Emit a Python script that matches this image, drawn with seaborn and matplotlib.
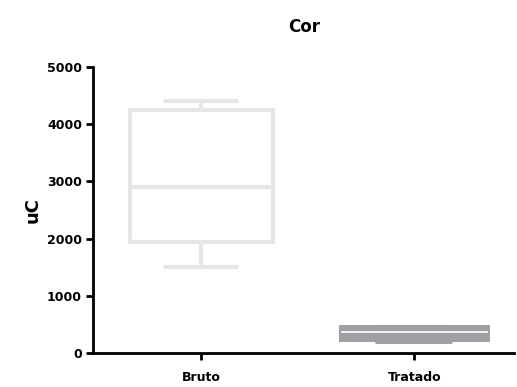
import matplotlib
matplotlib.use("Agg")
import matplotlib.pyplot as plt
import seaborn as sns
import pandas as pd

# Sample values per group (min, Q1, median, Q3, max)
categories = ["Bruto", "Tratado"]
bruto_values = [1500, 1940, 2900, 4250, 4400]
tratado_values = [190, 235, 370, 450, 460]
y_ticks = [0, 1000, 2000, 3000, 4000, 5000]

df = pd.DataFrame({
    "grupo": ["Bruto"] * len(bruto_values) + ["Tratado"] * len(tratado_values),
    "uC": bruto_values + tratado_values,
})

sns.set_theme(style="ticks")
plt.rcParams["font.family"] = ["DejaVu Sans"]
plt.rcParams["font.weight"] = "bold"
plt.rcParams["text.color"] = "black"
plt.rcParams["axes.labelcolor"] = "black"

fig = plt.figure(figsize=(5.17, 3.87), dpi=100)
ax = fig.add_axes([0.18, 0.088, 0.815, 0.739])

lw = 2.9
sns.boxplot(data=df[df.grupo == "Bruto"], x="grupo", y="uC", order=categories,
            whis=(0, 100), width=0.67, color="white", linecolor="#e6e6e6",
            linewidth=lw, ax=ax,
            boxprops=dict(facecolor="white", edgecolor="#e6e6e6", linewidth=lw),
            capprops=dict(color="#e6e6e6", linewidth=lw),
            whiskerprops=dict(color="#e6e6e6", linewidth=lw),
            medianprops=dict(color="#e6e6e6", linewidth=lw))
sns.boxplot(data=df[df.grupo == "Tratado"], x="grupo", y="uC", order=categories,
            whis=(0, 100), width=0.69, color="#a0a0a4", linecolor="#a0a0a4",
            linewidth=lw, ax=ax,
            boxprops=dict(facecolor="#a0a0a4", edgecolor="#a0a0a4", linewidth=lw),
            capprops=dict(color="#a0a0a4", linewidth=lw),
            whiskerprops=dict(color="#a0a0a4", linewidth=lw),
            medianprops=dict(color="white", linewidth=1.2))

ax.set_xlim(-0.507, 1.47)
ax.set_ylim(0, 5000)
ax.set_yticks(y_ticks)
ax.set_yticklabels([str(t) for t in y_ticks], fontsize=9, fontweight="bold")
ax.set_xticks([0, 1])
ax.set_xticklabels(categories, fontsize=9, fontweight="bold")
ax.set_xlabel("")
ax.set_ylabel("uC", fontsize=13, fontweight="bold", labelpad=4, color="black")
ax.set_title("Cor", fontsize=12, fontweight="bold", pad=25, color="black")

sns.despine(ax=ax)
for side in ["left", "bottom"]:
    ax.spines[side].set_linewidth(2.0)
    ax.spines[side].set_color("black")
ax.tick_params(axis="both", width=2.0, length=5, color="black", labelcolor="black")
ax.tick_params(axis="x", pad=8)
ax.tick_params(axis="y", pad=3)

fig.savefig("out.png", dpi=100, facecolor="white")
